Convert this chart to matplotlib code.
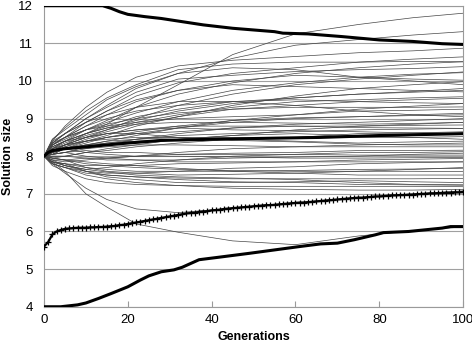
import matplotlib
matplotlib.use("Agg")
import matplotlib.pyplot as plt

plt.rcParams['font.family'] = ['Liberation Sans', 'DejaVu Sans']

# ---- data ----
generations = list(range(0, 101))

run_gens = [0, 2, 5, 10, 15, 22, 32, 45, 60, 75, 88, 100]
runs = [
    [8, 8.15, 8.3, 8.6, 8.85, 9.3, 9.9, 10.7, 11.25, 11.5, 11.68, 11.8],
    [8, 8.35, 8.6, 9.0, 9.35, 9.8, 10.2, 10.6, 10.95, 11.1, 11.22, 11.31],
    [8, 8.4, 8.8, 9.3, 9.7, 10.1, 10.4, 10.55, 10.65, 10.75, 10.8, 10.87],
    [8, 8.3, 8.5, 8.9, 9.2, 9.6, 9.95, 10.2, 10.35, 10.5, 10.58, 10.64],
    [8, 8.2, 8.4, 8.7, 8.95, 9.3, 9.65, 9.95, 10.2, 10.35, 10.45, 10.51],
    [8, 8.35, 8.6, 9.0, 9.3, 9.7, 10.05, 10.15, 10.25, 10.3, 10.33, 10.38],
    [8, 8.1, 8.3, 8.5, 8.7, 9.0, 9.35, 9.65, 9.9, 10.05, 10.15, 10.24],
    [8, 8.3, 8.5, 8.8, 9.1, 9.45, 9.75, 10.0, 10.15, 10.1, 10.05, 10.02],
    [8, 8.1, 8.2, 8.4, 8.55, 8.8, 9.05, 9.35, 9.6, 9.8, 9.9, 9.98],
    [8, 8.25, 8.4, 8.6, 8.8, 9.05, 9.25, 9.45, 9.55, 9.65, 9.72, 9.8],
    [8, 8.35, 8.6, 8.9, 9.2, 9.5, 9.75, 9.9, 9.85, 9.8, 9.75, 9.71],
    [8, 8.2, 8.3, 8.5, 8.65, 8.85, 9.05, 9.25, 9.35, 9.45, 9.5, 9.54],
    [8, 8.05, 8.2, 8.3, 8.4, 8.55, 8.75, 8.95, 9.1, 9.25, 9.33, 9.4],
    [8, 8.3, 8.5, 8.7, 8.85, 9.0, 9.15, 9.25, 9.3, 9.3, 9.3, 9.31],
    [8, 8.15, 8.3, 8.4, 8.5, 8.6, 8.75, 8.9, 9.0, 9.05, 9.1, 9.14],
    [8, 8.05, 8.1, 8.2, 8.3, 8.45, 8.6, 8.75, 8.85, 8.9, 8.95, 9.0],
    [8, 8.25, 8.4, 8.5, 8.6, 8.7, 8.8, 8.8, 8.8, 8.8, 8.82, 8.83],
    [8, 8.1, 8.2, 8.3, 8.4, 8.45, 8.55, 8.6, 8.65, 8.7, 8.72, 8.74],
    [8, 7.95, 8.0, 8.1, 8.15, 8.25, 8.35, 8.45, 8.5, 8.6, 8.62, 8.65],
    [8, 8.2, 8.3, 8.4, 8.45, 8.5, 8.5, 8.5, 8.5, 8.5, 8.5, 8.52],
    [8, 8.1, 8.2, 8.2, 8.25, 8.3, 8.3, 8.28, 8.25, 8.25, 8.25, 8.25],
    [8, 7.95, 7.9, 7.95, 7.95, 8.0, 8.05, 8.08, 8.1, 8.15, 8.15, 8.16],
    [8, 8.05, 8.1, 8.15, 8.1, 8.1, 8.05, 8.05, 8.05, 8.03, 8.03, 8.03],
    [8, 7.85, 7.8, 7.75, 7.75, 7.75, 7.8, 7.82, 7.85, 7.9, 7.92, 7.94],
    [8, 8.0, 8.0, 7.95, 7.9, 7.9, 7.85, 7.85, 7.85, 7.85, 7.85, 7.85],
    [8, 7.85, 7.8, 7.7, 7.65, 7.6, 7.6, 7.6, 7.62, 7.65, 7.66, 7.68],
    [8, 7.95, 7.9, 7.8, 7.75, 7.7, 7.65, 7.62, 7.6, 7.6, 7.6, 7.59],
    [8, 7.8, 7.7, 7.55, 7.5, 7.45, 7.42, 7.4, 7.4, 7.4, 7.4, 7.41],
    [8, 7.85, 7.75, 7.6, 7.5, 7.45, 7.38, 7.32, 7.3, 7.25, 7.24, 7.23],
    [8, 7.75, 7.6, 7.4, 7.3, 7.25, 7.22, 7.2, 7.2, 7.2, 7.2, 7.19],
    [8, 7.85, 7.6, 7.0, 6.65, 6.2, 5.98, 5.75, 5.65, 5.88, 6.02, 6.12],
    [8, 7.8, 7.55, 7.15, 6.85, 6.6, 6.5, 6.62, 6.76, 6.9, 7.0, 7.08],
    [8, 8.25, 8.4, 8.6, 8.75, 8.85, 8.9, 8.9, 8.88, 8.85, 8.87, 8.9],
    [8, 8.1, 8.2, 8.35, 8.5, 8.65, 8.8, 8.95, 9.02, 9.05, 9.08, 9.1],
    [8, 8.05, 8.1, 8.0, 7.95, 7.9, 7.9, 7.95, 7.98, 8.0, 8.05, 8.08],
    [8, 7.8, 7.7, 7.6, 7.55, 7.55, 7.6, 7.68, 7.72, 7.8, 7.83, 7.85],
    [8, 8.15, 8.3, 8.5, 8.6, 8.6, 8.5, 8.42, 8.38, 8.32, 8.3, 8.3],
    [8, 7.95, 7.9, 7.85, 7.8, 7.75, 7.68, 7.6, 7.55, 7.5, 7.5, 7.5],
    [8, 8.35, 8.5, 8.8, 9.0, 9.2, 9.35, 9.45, 9.5, 9.45, 9.42, 9.4],
    [8, 7.85, 7.8, 7.6, 7.45, 7.38, 7.3, 7.3, 7.32, 7.35, 7.32, 7.3],
    [8, 8.0, 8.0, 8.1, 8.2, 8.3, 8.45, 8.55, 8.6, 8.55, 8.5, 8.45],
    [8, 8.4, 8.6, 8.9, 9.1, 9.3, 9.45, 9.45, 9.35, 9.2, 9.1, 9.05],
    [8, 7.9, 7.9, 7.7, 7.6, 7.55, 7.5, 7.52, 7.55, 7.6, 7.65, 7.7],
    [8, 8.1, 8.2, 8.1, 8.05, 8.0, 8.0, 7.98, 7.95, 7.95, 7.96, 7.97],
    [8, 8.45, 8.7, 9.1, 9.5, 9.85, 10.2, 10.35, 10.3, 10.1, 10.0, 9.9],
    [8, 8.3, 8.5, 8.7, 8.8, 8.9, 9.0, 9.05, 9.1, 9.2, 9.22, 9.25],
    [8, 7.8, 7.7, 7.5, 7.4, 7.3, 7.22, 7.15, 7.12, 7.1, 7.1, 7.12],
    [8, 8.05, 8.1, 8.25, 8.35, 8.45, 8.5, 8.45, 8.4, 8.35, 8.38, 8.4],
    [8, 8.2, 8.4, 8.6, 8.75, 8.95, 9.2, 9.4, 9.55, 9.65, 9.7, 9.75],
    [8, 8.3, 8.45, 8.7, 8.9, 9.15, 9.45, 9.75, 9.95, 10.1, 10.18, 10.22],
    [8, 7.9, 7.85, 7.9, 7.95, 8.0, 8.1, 8.2, 8.25, 8.3, 8.32, 8.35],
    [8, 8.1, 8.25, 8.45, 8.6, 8.7, 8.75, 8.7, 8.68, 8.65, 8.62, 8.6],
    [8, 7.9, 7.75, 7.65, 7.7, 7.8, 7.9, 8.0, 8.05, 8.1, 8.1, 8.12],
    [8, 8.2, 8.35, 8.55, 8.7, 8.9, 9.1, 9.3, 9.45, 9.5, 9.55, 9.58],
    [8, 8.05, 8.2, 8.3, 8.35, 8.4, 8.45, 8.55, 8.7, 8.8, 8.85, 8.9],
    [8, 7.85, 7.75, 7.65, 7.58, 7.5, 7.45, 7.42, 7.38, 7.3, 7.25, 7.24],
    [8, 8.45, 8.75, 9.2, 9.55, 9.9, 10.3, 10.45, 10.5, 10.5, 10.52, 10.51],
    [8, 8.15, 8.25, 8.4, 8.5, 8.6, 8.65, 8.75, 8.8, 8.76, 8.75, 8.74],
]

max_gens = [0, 14, 16, 18, 20, 24, 28, 38, 45, 55, 57, 63, 71, 80, 88, 95, 100]
max_vals = [12, 12, 11.93, 11.84, 11.77, 11.71, 11.66, 11.49, 11.4, 11.31, 11.27,
            11.25, 11.18, 11.09, 11.05, 10.99, 10.97]

mean_gens = [0, 1, 2, 5, 10, 20, 28, 40, 55, 66, 80, 100]
mean_vals = [8.0, 8.1, 8.15, 8.2, 8.25, 8.35, 8.42, 8.45, 8.48, 8.5, 8.55, 8.6]

plus_vals = [5.6, 5.72, 5.92, 6.0, 6.04, 6.07, 6.08, 6.09, 6.1, 6.1,
             6.1, 6.11, 6.11, 6.12, 6.12, 6.13, 6.14, 6.15, 6.17, 6.18,
             6.2, 6.22, 6.24, 6.26, 6.28, 6.3, 6.32, 6.34, 6.36, 6.38,
             6.4, 6.42, 6.44, 6.46, 6.48, 6.49, 6.5, 6.52, 6.53, 6.54,
             6.56, 6.57, 6.58, 6.6, 6.61, 6.62, 6.63, 6.64, 6.65, 6.66,
             6.67, 6.68, 6.69, 6.7, 6.7, 6.71, 6.72, 6.73, 6.74, 6.75,
             6.76, 6.77, 6.77, 6.78, 6.79, 6.8, 6.81, 6.82, 6.83, 6.84,
             6.85, 6.86, 6.87, 6.88, 6.89, 6.9, 6.9, 6.91, 6.92, 6.93,
             6.93, 6.94, 6.95, 6.96, 6.96, 6.97, 6.97, 6.98, 6.98, 6.99,
             7.0, 7.0, 7.01, 7.01, 7.02, 7.02, 7.03, 7.03, 7.04, 7.04, 7.05]

min_gens = [0, 4, 8, 10, 13, 16, 20, 23, 25, 28, 31, 33, 37, 42, 49, 55, 61, 66,
            70, 74, 79, 81, 87, 95, 97, 100]
min_vals = [4.0, 4.0, 4.05, 4.1, 4.22, 4.35, 4.53, 4.71, 4.82, 4.93, 4.98, 5.05,
            5.25, 5.32, 5.42, 5.51, 5.60, 5.67, 5.69, 5.78, 5.91, 5.97, 6.0, 6.09,
            6.13, 6.13]

x_ticks = [0, 20, 40, 60, 80, 100]
y_ticks = [4, 5, 6, 7, 8, 9, 10, 11, 12]

# ---- plot ----
fig = plt.figure(figsize=(4.72, 3.47), dpi=100)
ax = fig.add_axes([0.0932, 0.116, 0.888, 0.8676])

for r in runs:
    ax.plot(run_gens, r, color='#454545', lw=0.5, zorder=2)

ax.plot(max_gens, max_vals, color='black', lw=2.2, zorder=4)
ax.plot(mean_gens, mean_vals, color='black', lw=2.2, zorder=4)
ax.plot(generations, plus_vals, color='black', lw=1.6, marker='+',
        markersize=5, markeredgewidth=0.9, zorder=4)
ax.plot(min_gens, min_vals, color='black', lw=2.2, zorder=4)

ax.set_xlim(0, 100)
ax.set_ylim(4, 12)
ax.set_xticks(x_ticks)
ax.set_yticks(y_ticks)
ax.yaxis.grid(True, color='#a0a0a0', lw=0.8, zorder=0)
ax.set_axisbelow(True)
for s in ax.spines.values():
    s.set_color('#9a9a9a')
    s.set_linewidth(0.8)
ax.tick_params(axis='x', direction='in', length=4, color='#9a9a9a',
               labelsize=9.5, pad=5)
ax.tick_params(axis='y', length=0, labelsize=9.5, pad=8)
ax.set_xlabel('Generations', fontsize=9, fontweight='bold', labelpad=4)
ax.set_ylabel('Solution size', fontsize=9, fontweight='bold', labelpad=3)

fig.savefig('out.png', dpi=100)
